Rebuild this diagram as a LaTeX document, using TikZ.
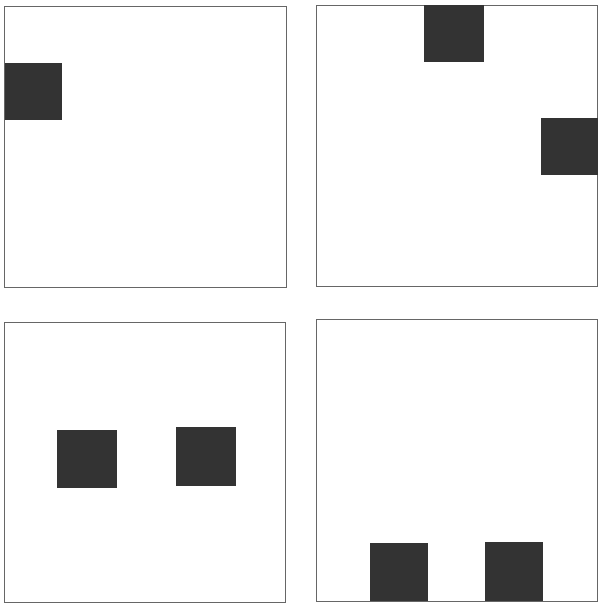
\documentclass[tikz,border=0pt]{standalone}
\begin{document}
\begin{tikzpicture}[x=1pt,y=-1pt,
  frame/.style={draw=black!60,line width=0.9pt},
  block/.style={fill=black!80}]
\useasboundingbox (0,0) rectangle (598,604);
% panel 1
\draw[frame] (4.5,6) rectangle (286,287);
\fill[block] (4.5,63) rectangle (62,120);
% panel 2
\draw[frame] (316,5) rectangle (597.5,286);
\fill[block] (424,5) rectangle (484,62);
\fill[block] (541,118) rectangle (597.5,175);
% panel 3
\draw[frame] (4.5,322) rectangle (285,602);
\fill[block] (57,430) rectangle (117,488);
\fill[block] (176,427) rectangle (236,486);
% panel 4
\draw[frame] (316,319) rectangle (597.5,601);
\fill[block] (370,543) rectangle (428,601);
\fill[block] (485,542) rectangle (543,601);
\end{tikzpicture}
\end{document}
